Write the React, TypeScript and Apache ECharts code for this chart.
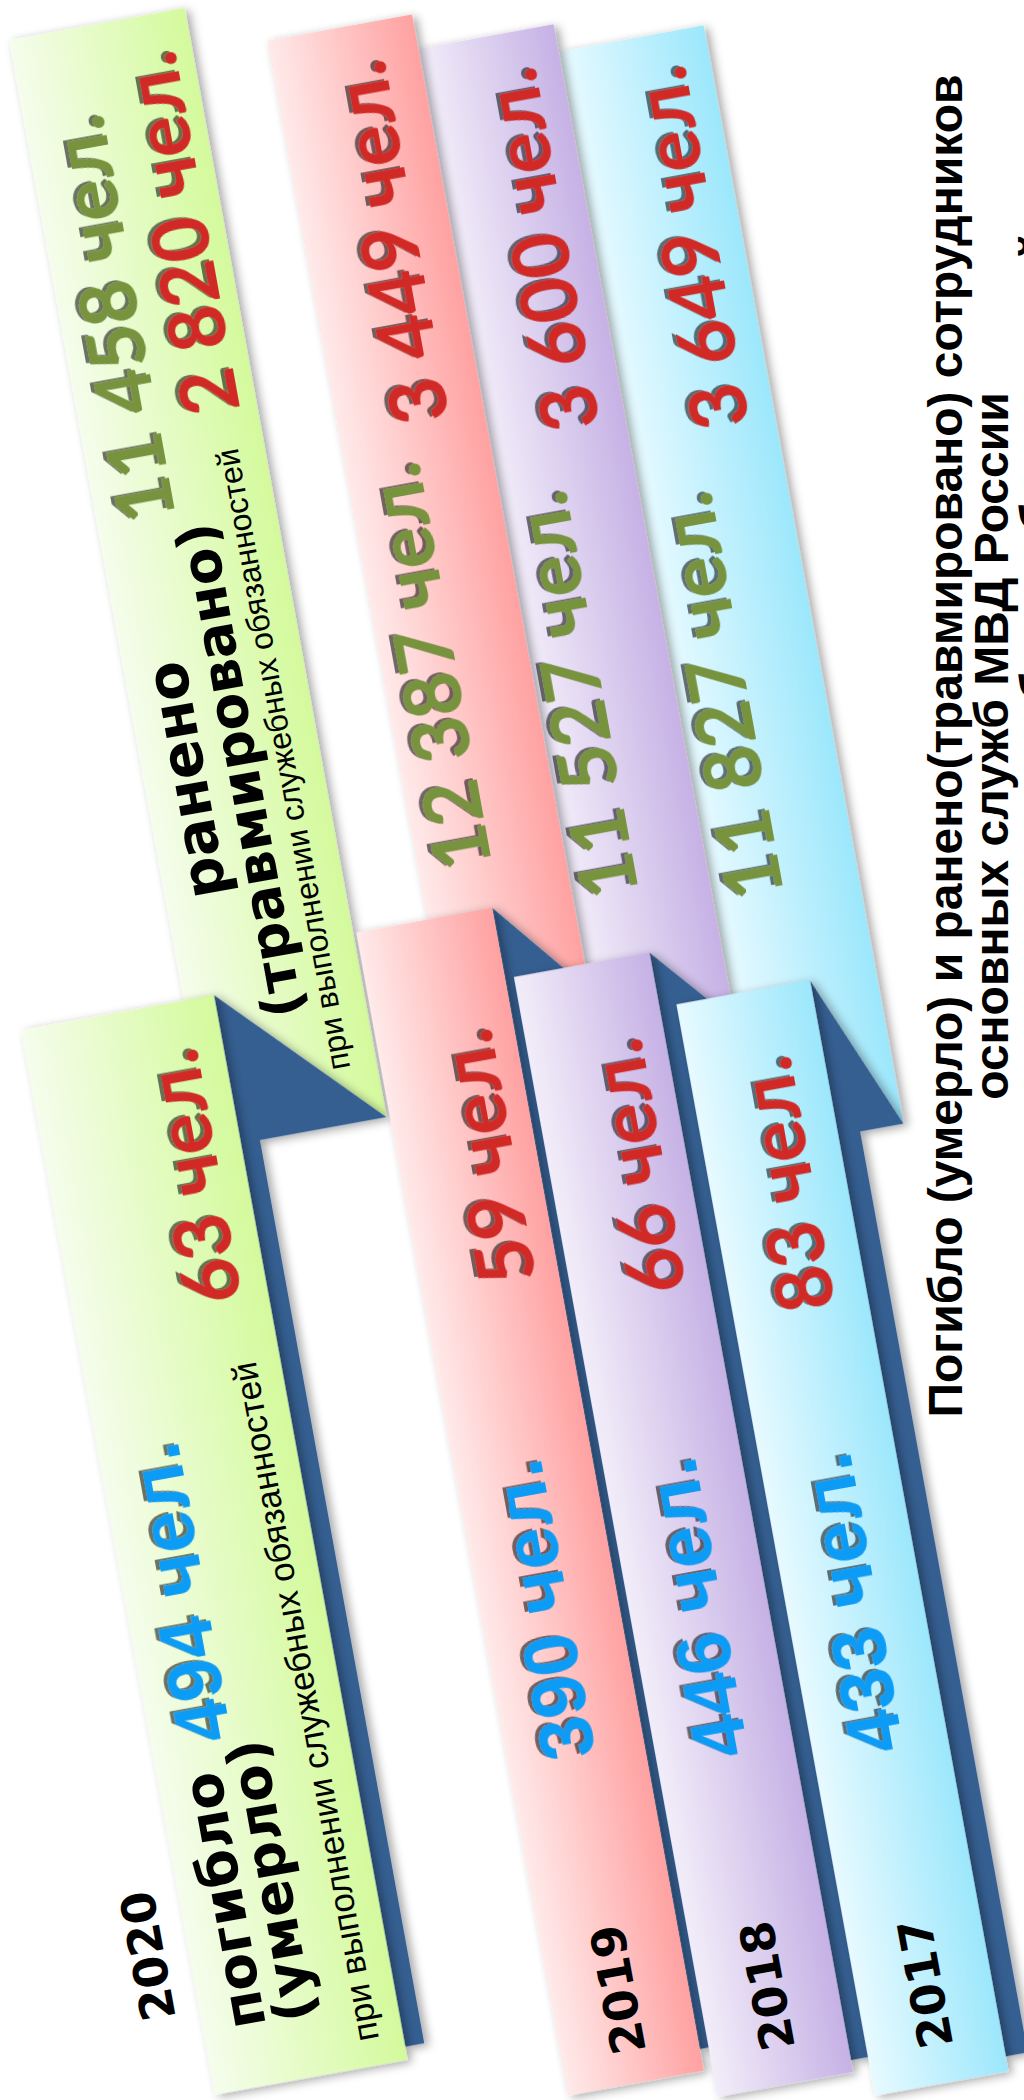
import React, { useEffect, useRef } from "react";
import * as echarts from "echarts";

// ---------- data ----------
const years = ["2020", "2019", "2018", "2017"];
const killed = [494, 390, 446, 433];
const killedSub = [63, 59, 66, 83];
const wounded = [11458, 12387, 11527, 11827];
const woundedSub = [2820, 3449, 3600, 3649];
const unit = "чел.";

const titleLines = [
  "Погибло (умерло) и ранено(травмировано) сотрудников",
  "основных служб МВД России",
  "при выполнении служебных обязанностей",
];
const killedLabel = ["погибло", "(умерло)"];
const woundedLabel = ["ранено", "(травмировано)"];
const dutyNote = "при выполнении служебных обязанностей";

// ---------- layout (local, tilted frame) ----------
const ORIGIN = [9, 40];
const TILT_DEG = 10.3;
// up: [u0, u1, top]; low: [u0, u1, top, bottom]; foldB: v of fold tip; bar: [right u, bottom v]
const strips = [
  { up: [0, 178.5, 0], low: [-165, 30.5, 976, 2058], foldB: 1127, bar: [50, 2045] },
  { up: [254, 401, 47], low: [182, 320, 940, 2122], foldB: 1038, bar: [342, 2100] },
  { up: [401, 538.6, 82], low: [329, 466.5, 1012, 2150], foldB: 1095, bar: [488, 2138] },
  { up: [540, 686, 110], low: [484, 619.5, 1068, 2177], foldB: 1226, bar: [642, 2162] },
];
const palettes = [
  ["#f5fdec", "#d4fa9c"],
  ["#ffeaea", "#ffa1a1"],
  ["#f2edf9", "#c6b1e5"],
  ["#e7faff", "#9ce7fc"],
];
const woundedPos = [[49, 293.5], [298, 692], [437.5, 746], [580, 773]];
const woundedSubPos = [[131.5, 221], [336, 267.5], [483, 301.5], [630.5, 326.5]];
const killedSubPos = [[-25.5, 1151.5], [267.5, 1184.5], [413.5, 1221], [557, 1265]];
const killedPos = [[-111.5, 1558.5], [243.5, 1640], [394.5, 1666], [548, 1689]];
const yearPos = [[-206, 1910], [250.6, 2027], [398, 2050], [554, 2076]];

const COLOR_GREEN = "#77933c";
const COLOR_RED = "#d12b27";
const COLOR_BLUE = "#0f9cf5";
const COLOR_DARK = "#365f91";

const FONT_NUM = 'bold 78px Lato, "Open Sans", sans-serif';
const FONT_BLUE = 'bold 76px "Liberation Sans", Arial, sans-serif';
const FONT_LABEL = 'bold 55px "DejaVu Sans", sans-serif';
const FONT_LABEL_BIG = 'bold 58px "DejaVu Sans", sans-serif';
const FONT_YEAR = 'bold 47px "DejaVu Sans", sans-serif';
const FONT_TITLE = 'bold 48px "Liberation Sans", Arial, sans-serif';

const fmt = (n: number) =>
  String(n).replace(/\B(?=(\d{3})+(?!\d))/g, " ") + " " + unit;

const grad = (c0: string, c1: string) => ({
  type: "linear",
  x: 0,
  y: 0,
  x2: 1,
  y2: 0,
  colorStops: [
    { offset: 0, color: c0 },
    { offset: 1, color: c1 },
  ],
});

const boxShadow = {
  shadowBlur: 10,
  shadowColor: "rgba(0,0,0,0.35)",
  shadowOffsetX: 4,
  shadowOffsetY: 3,
};

function rtext(
  u: number,
  v: number,
  text: string,
  font: string,
  fill: string,
  align: string = "center",
  shadow: boolean = false
) {
  const style: any = {
    text,
    font,
    fill,
    align,
    verticalAlign: "middle",
    textAlign: align,
    textVerticalAlign: "middle",
  };
  if (shadow) {
    style.textShadowColor = "rgba(0,0,0,0.55)";
    style.textShadowBlur = 7;
    style.textShadowOffsetX = -2;
    style.textShadowOffsetY = 4;
  }
  return { type: "text", x: u, y: v, rotation: Math.PI / 2, style };
}

function buildOption() {
  const tilt = (TILT_DEG * Math.PI) / 180;
  const uppers: any[] = [];
  const darks: any[] = [];
  const lowers: any[] = [];
  strips.forEach((s, i) => {
    const [u0, u1, top] = s.up;
    const [l0, l1, lt, lb] = s.low;
    uppers.push({
      type: "polygon",
      shape: { points: [[u0, top], [u1, top], [u1, s.foldB], [l1, lt], [u0, lt]] },
      style: { fill: grad(palettes[i][0], palettes[i][1]), ...boxShadow },
    });
    darks.push({
      type: "polygon",
      shape: {
        points: [[l1, lt], [u1, s.foldB], [s.bar[0], s.foldB], [s.bar[0], s.bar[1]], [l1, s.bar[1]]],
      },
      style: { fill: COLOR_DARK, ...boxShadow },
    });
    lowers.push({
      type: "rect",
      shape: { x: l0, y: lt, width: l1 - l0, height: lb - lt },
      style: { fill: grad(palettes[i][0], palettes[i][1]), ...boxShadow },
    });
  });

  const texts: any[] = [];
  years.forEach((y, i) => {
    texts.push(rtext(woundedPos[i][0], woundedPos[i][1], fmt(wounded[i]), FONT_NUM, COLOR_GREEN, "center", true));
    texts.push(rtext(woundedSubPos[i][0], woundedSubPos[i][1], fmt(woundedSub[i]), FONT_NUM, COLOR_RED, "center", true));
    texts.push(rtext(killedSubPos[i][0], killedSubPos[i][1], fmt(killedSub[i]), FONT_NUM, COLOR_RED, "center", true));
    texts.push(rtext(killedPos[i][0], killedPos[i][1], fmt(killed[i]), FONT_BLUE, COLOR_BLUE, "center", true));
    texts.push(rtext(yearPos[i][0], yearPos[i][1], y, FONT_YEAR, "#000"));
  });
  // labels of the first (2020) column
  texts.push(rtext(42, 760, woundedLabel[0], FONT_LABEL_BIG, "#000"));
  texts.push(rtext(96, 760, woundedLabel[1], FONT_LABEL, "#000"));
  texts.push(rtext(141, 757, dutyNote, '32px "Liberation Sans", Arial, sans-serif', "#000"));
  texts.push(rtext(-121, 1999, killedLabel[0], FONT_LABEL, "#000", "left"));
  texts.push(rtext(-72, 2001, killedLabel[1], FONT_LABEL, "#000", "left"));
  texts.push(rtext(-6, 1688, dutyNote, '35px "Liberation Sans", Arial, sans-serif', "#000"));

  const group = {
    type: "group",
    x: ORIGIN[0],
    y: ORIGIN[1],
    rotation: tilt,
    children: [...uppers.slice().reverse(), ...darks, ...lowers, ...texts],
  };

  const title = titleLines.map((t, i) => ({
    type: "text",
    x: 945 + 46 * i,
    y: 746,
    rotation: Math.PI / 2,
    style: {
      text: t,
      font: FONT_TITLE,
      fill: "#000",
      align: "center",
      verticalAlign: "middle",
      textAlign: "center",
      textVerticalAlign: "middle",
    },
  }));

  return {
    animation: false,
    backgroundColor: "#ffffff",
    graphic: { elements: [group, ...title] },
  };
}

export default function App() {
  const ref = useRef<HTMLDivElement>(null);
  useEffect(() => {
    document.body.style.margin = "0";
    const chart = echarts.init(ref.current as HTMLDivElement, null, { renderer: "svg" });
    chart.setOption(buildOption() as any);
    return () => chart.dispose();
  }, []);
  return <div ref={ref} style={{ width: 1024, height: 2100 }} />;
}
